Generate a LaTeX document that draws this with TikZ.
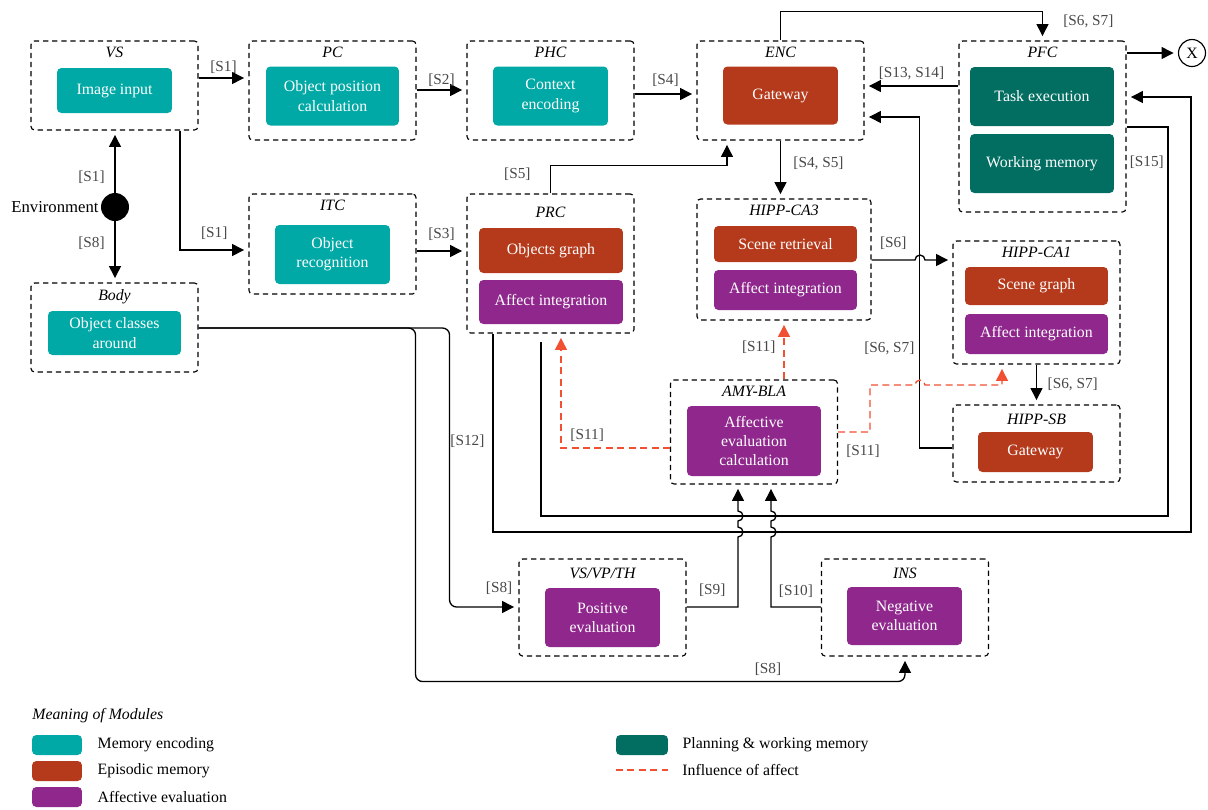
\documentclass[tikz,border=0pt]{standalone}
\usepackage{fontspec}
\setmainfont{Liberation Serif}
\usetikzlibrary{arrows.meta,positioning,calc}

\definecolor{encteal}{RGB}{0,169,165}
\definecolor{epirust}{RGB}{181,58,28}
\definecolor{affpurple}{RGB}{143,39,141}
\definecolor{plangreen}{RGB}{2,110,98}
\definecolor{affred}{RGB}{241,80,50}
\definecolor{taggray}{RGB}{72,72,72}

\begin{document}
\begin{tikzpicture}[x=0.02cm,y=-0.02cm,>={Triangle[length=6.8pt,width=6.8pt]},
    module/.style={draw,dash pattern=on 3pt off 2.2pt,line width=0.65pt,rounded corners=2pt,minimum width=3.34cm},
    title/.style={inner sep=0pt,font=\fontsize{9}{10}\selectfont\itshape},
    unit/.style={rounded corners=2.5pt,text=white,align=center,inner sep=0pt,font=\fontsize{9}{11}\selectfont},
    enc/.style={unit,fill=encteal},
    epi/.style={unit,fill=epirust},
    aff/.style={unit,fill=affpurple},
    plan/.style={unit,fill=plangreen},
    link/.style={->,line width=0.75pt,shorten >=2.5pt},
    infl/.style={->,affred,line width=0.75pt,dash pattern=on 4pt off 2.5pt,shorten >=2.5pt},
    tag/.style={text=taggray,inner sep=1pt,font=\fontsize{8.7}{10}\selectfont},
    legend/.style={inner sep=0pt,anchor=west,font=\fontsize{9}{10}\selectfont}]

\useasboundingbox (0,0) rectangle (1208,809);

% modules
\node[module,minimum height=1.78cm] (vs) at (114.5,85.5) {};
\node[module,minimum height=1.98cm] (pc) at (332.5,90.5) {};
\node[module,minimum height=1.98cm] (phc) at (550.5,90.5) {};
\node[module,minimum height=1.98cm] (enc) at (780.5,90.5) {};
\node[module,minimum height=3.42cm] (pfc) at (1042.5,126.5) {};
\node[module,minimum height=2.0cm] (itc) at (332.5,244) {};
\node[module,minimum height=2.78cm] (prc) at (550.5,263.5) {};
\node[module,minimum width=3.48cm,minimum height=2.42cm] (ca3) at (784,259.5) {};
\node[module,minimum height=2.46cm] (ca1) at (1036.5,302.5) {};
\node[module,minimum height=1.54cm] (sb) at (1036.5,443.5) {};
\node[module,minimum height=2.08cm] (amy) at (754,432) {};
\node[module,minimum height=1.78cm] (body) at (114.5,327.5) {};
\node[module,minimum height=1.94cm] (vvt) at (602.5,607.5) {};
\node[module,minimum height=1.94cm] (ins) at (905,607.5) {};

\foreach \m/\t in {vs/VS,pc/PC,phc/PHC,enc/ENC,pfc/PFC,itc/ITC,ca3/HIPP-CA3,ca1/HIPP-CA1,amy/AMY-BLA,body/Body}
  \node[title,below=3.8pt of \m.north] (\m t) {\t};
\node[title,below=7.5pt of prc.north] (prct) {PRC};
\node[title,below=5.5pt of sb.north] (sbt) {HIPP-SB};
\node[title,below=5.5pt of vvt.north] (vvtt) {VS/VP/TH};
\node[title,below=5.5pt of ins.north] (inst) {INS};

% units
\node[enc,minimum width=2.3cm,minimum height=0.9cm] (img) at (114.5,90.5) {Image input};
\node[enc,minimum width=2.66cm,minimum height=1.18cm] (opc) at (332.5,96) {Object position\\calculation};
\node[enc,minimum width=2.3cm,minimum height=1.18cm] (ctx) at (550.5,96) {Context\\encoding};
\node[epi,minimum width=2.3cm,minimum height=1.16cm] (gw) at (780.5,95.5) {Gateway};
\node[plan,minimum width=2.88cm,minimum height=1.18cm] (task) at (1042,96.5) {Task execution};
\node[plan,minimum width=2.88cm,minimum height=1.18cm] (wm) at (1042,163.5) {Working memory};
\node[enc,minimum width=2.3cm,minimum height=1.18cm] (orec) at (332.5,254.5) {Object\\recognition};
\node[epi,minimum width=2.88cm,minimum height=0.9cm] (ograph) at (551,250.5) {Objects graph};
\node[aff,minimum width=2.88cm,minimum height=0.88cm] (aff1) at (551,302) {Affect integration};
\node[epi,minimum width=2.86cm,minimum height=0.72cm] (scret) at (785.5,244) {Scene retrieval};
\node[aff,minimum width=2.86cm,minimum height=0.8cm] (aff2) at (785.5,290) {Affect integration};
\node[epi,minimum width=2.86cm,minimum height=0.76cm] (scgr) at (1036.5,286) {Scene graph};
\node[aff,minimum width=2.86cm,minimum height=0.8cm] (aff3) at (1036.5,334) {Affect integration};
\node[epi,minimum width=2.3cm,minimum height=0.8cm] (gw2) at (1035.5,452) {Gateway};
\node[aff,minimum width=2.68cm,minimum height=1.4cm] (aec) at (754,441) {Affective\\evaluation\\calculation};
\node[enc,minimum width=2.66cm,minimum height=0.88cm] (oca) at (114.5,333) {Object classes\\around};
\node[aff,minimum width=2.3cm,minimum height=1.18cm] (pos) at (602.5,617.5) {Positive\\evaluation};
\node[aff,minimum width=2.3cm,minimum height=1.16cm] (neg) at (904.5,616) {Negative\\evaluation};

\node[circle,fill=black,minimum size=0.56cm,inner sep=0pt] (env) at (115,207) {};
\node[left=1pt of env,inner sep=0pt,font=\fontsize{9.5}{11}\selectfont] (envt) {Environment};
\node[circle,draw,line width=0.65pt,minimum size=0.54cm,inner sep=0pt,font=\fontsize{9}{10}\selectfont] (xout) at (1192,53) {X};
\coordinate (s15end) at (541,342);

% connections
\draw[link] (env) -- node[tag,left=4.5pt,pos=0.25] {[S1]} (vs.south -| env);
\draw[link] (env) -- node[tag,left=4.5pt,pos=0.35] {[S8]} (body.north -| env);
\draw[link] (vs.east |- 0,78) -- node[tag,above=1.3pt] {[S1]} (pc.west |- 0,78);
\draw[link] (vs.south -| 180,0) |- node[tag,above=4.7pt,pos=0.75] {[S1]} (itc.west |- 0,250);
\draw[link] (pc.east |- 0,90) -- node[tag,above=0.8pt] {[S2]} (phc.west |- 0,90);
\draw[link] (phc.east |- 0,94) -- node[tag,above=3pt] {[S4]} (enc.west |- 0,94);
\draw[link] (itc.east |- 0,251) -- node[tag,above=4.7pt] {[S3]} (prc.west |- 0,251);
\draw[link] (prc.north) -- node[tag,left=10pt,pos=0.7] {[S5]} ++(0,-28) -| (enc.south -| 727,0);
\draw[link] (enc.south) -- node[tag,right=6pt,pos=0.4] {[S4, S5]} (enc.south |- ca3.north);
\draw[link] (enc.north) -- ++(0,-29) -| node[tag,right=10.5pt,pos=0.67] {[S6, S7]} (pfc.north);
\draw[link] (pfc.east |- xout) -- (xout);
\draw[link] (pfc.west |- 0,86) -- node[tag,above=1.9pt] {[S13, S14]} (enc.east |- 0,86);
\draw[link] (sb.west |- 0,448) -- ++(-33,0) |- node[tag,left=1.5pt,pos=0.15] {[S6, S7]} (enc.east |- 0,117);
\draw[link] (ca3.east |- 0,260) -- node[tag,above=4.7pt] {[S6]} (915,260)
  arc[start angle=180,end angle=0,radius=0.1cm] -- (ca1.west |- 0,260);
\draw[link] (ca1.south) -- node[tag,right=5pt] {[S6, S7]} (sb.north);
\draw[line width=0.75pt] (pfc.east |- 0,127) -| node[tag,left=1pt,pos=0.545] {[S15]} (1168,516) -| (s15end);
\draw[link] (prc.south -| 493,0) |- node[tag,left=3.5pt,pos=0.27] {[S12]} (1191,532) |- (pfc.east |- 0,97);
\draw[link,rounded corners=4pt] (body.east |- 0,328) -- ++(251,0) |- node[tag,above=5.8pt,pos=0.86] {[S8]} (vvt.west |- 0,607);
\draw[link,rounded corners=4pt] (body.east |- 0,328) -- ++(217,0) |- node[tag,above=1.9pt,pos=0.86] {[S8]} ($(ins.south)+(0,25)$) -- (ins.south);
\draw[link] (vvt.east |- 0,607) -| node[tag,above=4.7pt,pos=0.25] {[S9]} (738,537)
  arc[start angle=-90,end angle=90,radius=0.1cm] -- (738,521)
  arc[start angle=-90,end angle=90,radius=0.1cm] -- (amy.south -| 738,0);
\draw[link] (ins.west |- 0,607) -| node[tag,above=4.1pt,pos=0.25] {[S10]} (771,537)
  arc[start angle=-90,end angle=90,radius=0.1cm] -- (771,521)
  arc[start angle=-90,end angle=90,radius=0.1cm] -- (amy.south -| 771,0);

% influence of affect
\draw[infl] (amy.west |- 0,448) -| node[tag,above=2.4pt,pos=0.38] {[S11]} (prc.south -| 561,0);
\draw[infl] (ca3.south |- amy.north) -- node[tag,left=3.5pt,pos=0.54] {[S11]} (ca3.south);
\draw[infl] (amy.east |- 0,432) -| node[tag,below=5.8pt,pos=0.39] {[S11]} (870,385) -- (915,385)
  arc[start angle=180,end angle=0,radius=0.1cm] -| (ca1.south -| 1002,0);

% legend
\node[legend,font=\fontsize{9}{10}\selectfont\itshape] (legt) at (32,716) {Meaning of Modules};
\foreach \c/\t [count=\i] in {encteal/Memory encoding,epirust/Episodic memory,affpurple/Affective evaluation}{
  \node[unit,fill=\c,minimum width=1cm,minimum height=0.4cm] (sw\i) at (57,719+26*\i) {};
  \node[legend,right=0.3cm of sw\i] (lg\i) {\t};
}
\node[plan,minimum width=1.04cm,minimum height=0.4cm] (swp) at (642,745) {};
\node[legend,right=0.28cm of swp] (lgp) {Planning \& working memory};
\coordinate (da) at (616,770);
\coordinate (db) at (668,770);
\draw[affred,line width=0.75pt,dash pattern=on 4pt off 2.5pt] (da) -- (db);
\node[legend,right=0.28cm of db] (lgd) {Influence of affect};

\end{tikzpicture}
\end{document}
